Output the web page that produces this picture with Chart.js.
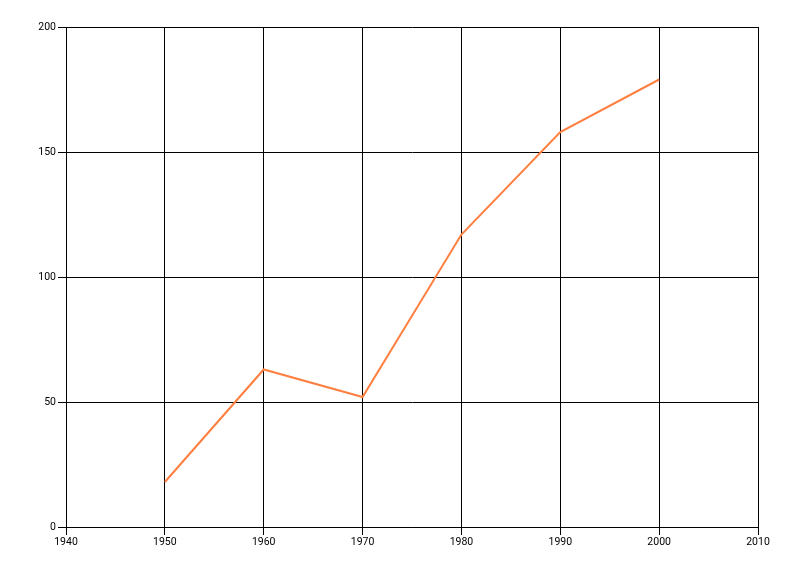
<!DOCTYPE html>
<html>
<head>
<meta charset="utf-8">
<script src="https://cdn.jsdelivr.net/npm/chart.js@4/dist/chart.umd.min.js"></script>
<style>
html,body{margin:0;padding:0;background:#fff;}
#wrap{width:800px;height:576px;position:relative;}
</style>
</head>
<body>
<div id="wrap"><canvas id="c" width="800" height="576"></canvas></div>
<script>
const years = [1950, 1960, 1970, 1980, 1990, 2000];
const values = [18, 63, 52, 117, 158, 179];
const xTicks = [1940, 1950, 1960, 1970, 1980, 1990, 2000, 2010];
const yTicks = [0, 50, 100, 150, 200];

const points = years.map((y, i) => ({x: y, y: values[i]}));

new Chart(document.getElementById('c'), {
  type: 'line',
  data: {
    datasets: [{
      data: points,
      borderColor: '#FF7F40',
      borderWidth: 2,
      pointRadius: 0,
      fill: false,
      tension: 0
    }]
  },
  options: {
    responsive: false,
    animation: false,
    plugins: {legend: {display: false}, tooltip: {enabled: false}},
    layout: {padding: {left: 0, right: 42, top: 27, bottom: 0}},
    scales: {
      x: {
        type: 'linear',
        min: xTicks[0],
        max: xTicks[xTicks.length - 1],
        afterBuildTicks: s => { s.ticks = xTicks.map(v => ({value: v})); },
        afterFit: s => { s.height = 49; },
        grid: {color: '#000', lineWidth: 1, tickLength: 8, drawTicks: true},
        border: {color: '#000', width: 1},
        ticks: {color: '#000', padding: 1, maxRotation: 0, autoSkip: false,
                font: {family: 'Roboto', size: 10.5},
                callback: v => String(v)}
      },
      y: {
        min: yTicks[0],
        max: yTicks[yTicks.length - 1],
        afterBuildTicks: s => { s.ticks = yTicks.map(v => ({value: v})); },
        afterFit: s => { s.width = 66; },
        grid: {color: '#000', lineWidth: 1, tickLength: 8, drawTicks: true},
        border: {color: '#000', width: 1},
        ticks: {color: '#000', padding: 2, autoSkip: false,
                font: {family: 'Roboto', size: 10.5},
                callback: v => String(v)}
      }
    }
  }
});
</script>
</body>
</html>
